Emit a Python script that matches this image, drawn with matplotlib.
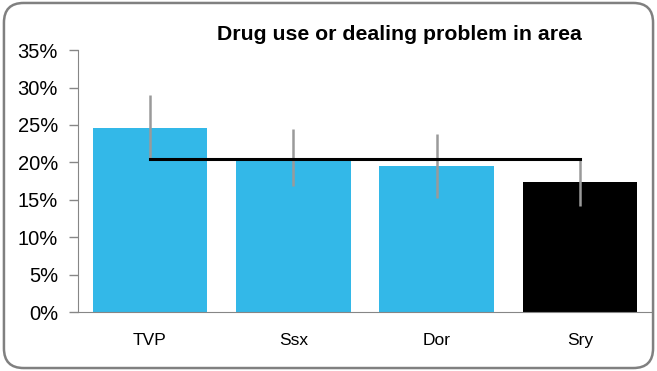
import matplotlib.pyplot as plt
from matplotlib.patches import FancyBboxPatch

# data
regions = ['TVP', 'Ssx', 'Dor', 'Sry']
values = [24.6, 20.5, 19.5, 17.4]
err_low = [20.3, 16.8, 15.2, 14.1]
err_high = [29.0, 24.5, 23.8, 20.6]
average = 20.5
bar_colors = ['#33B8E8', '#33B8E8', '#33B8E8', '#000000']
yticks = [0, 5, 10, 15, 20, 25, 30, 35]

plt.rcParams['font.family'] = ['Liberation Sans', 'DejaVu Sans']

fig = plt.figure(figsize=(6.57, 3.71), dpi=100)
ax = fig.add_axes([0.119, 0.159, 0.873, 0.706])

x = list(range(len(regions)))
ax.bar(x, values, width=0.8, color=bar_colors, zorder=2)

# error bars, no caps
lower = [v - lo for v, lo in zip(values, err_low)]
upper = [hi - v for v, hi in zip(values, err_high)]
ax.errorbar(x, values, yerr=[lower, upper], fmt='none', ecolor='#9a9a9a',
            elinewidth=1.8, capsize=0, zorder=3)

# overall average line
ax.plot([x[0], x[-1]], [average, average], color='black', lw=2.2, zorder=4)

ax.set_xlim(-0.5, 3.5)
ax.set_ylim(0, 35)
ax.set_yticks(yticks)
ax.set_yticklabels([f'{t}%' for t in yticks], fontsize=14.5)
ax.set_xticks(x)
ax.set_xticklabels(regions, fontsize=12.5)
ax.tick_params(axis='x', length=0, pad=15)
ax.tick_params(axis='y', length=6.5, color='#868686', width=1, pad=8)

for side in ['top', 'right']:
    ax.spines[side].set_visible(False)
ax.spines['left'].set_color('#868686')
ax.spines['bottom'].set_color('#868686')

fig.text(0.608, 0.906, 'Drug use or dealing problem in area', ha='center',
         va='center', fontsize=15.3, fontweight='bold')

# rounded border around the whole chart
border = FancyBboxPatch((0.006, 0.008), 0.988, 0.984,
                        boxstyle='round,pad=0,rounding_size=0.03',
                        mutation_aspect=1.77,
                        transform=fig.transFigure, fill=False,
                        edgecolor='#808080', lw=1.8)
fig.patches.append(border)

fig.savefig('out.png', dpi=100)
